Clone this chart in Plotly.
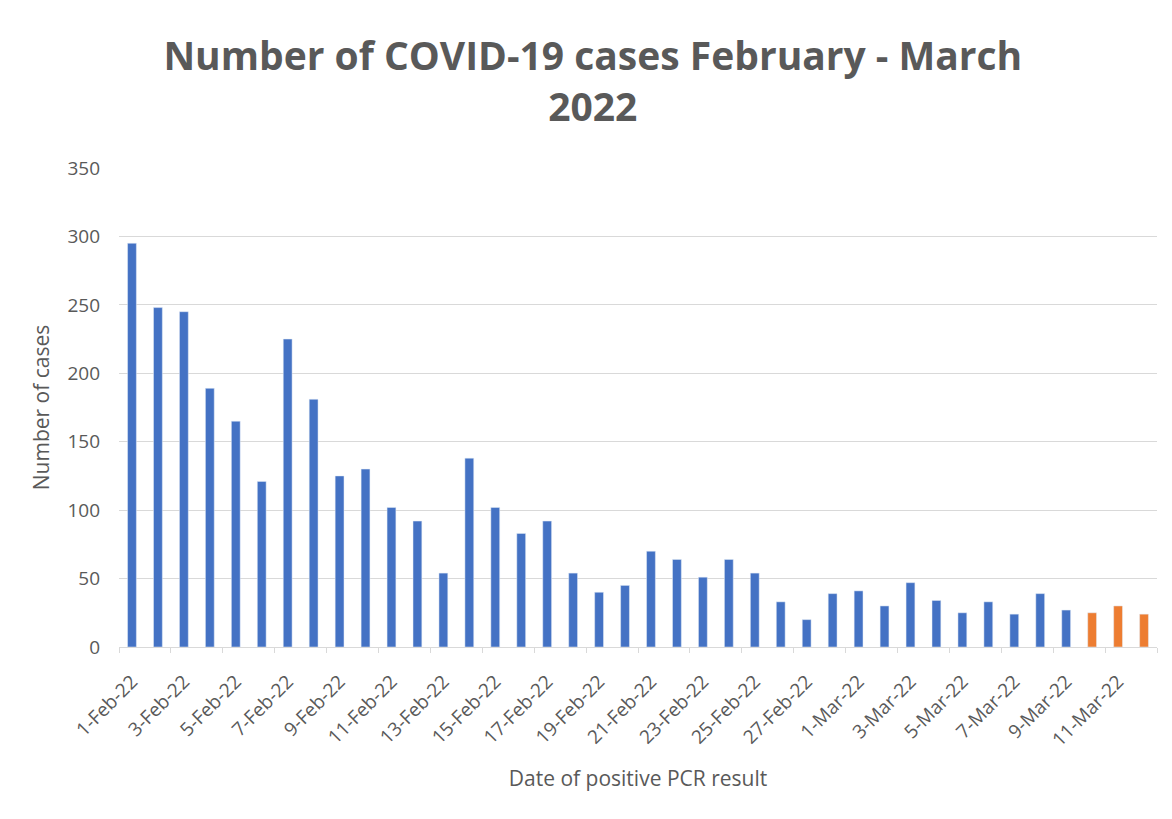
import plotly.graph_objects as go

dates_confirmed = [
    "1-Feb-22", "2-Feb-22", "3-Feb-22", "4-Feb-22", "5-Feb-22", "6-Feb-22", "7-Feb-22",
    "8-Feb-22", "9-Feb-22", "10-Feb-22", "11-Feb-22", "12-Feb-22", "13-Feb-22", "14-Feb-22",
    "15-Feb-22", "16-Feb-22", "17-Feb-22", "18-Feb-22", "19-Feb-22", "20-Feb-22", "21-Feb-22",
    "22-Feb-22", "23-Feb-22", "24-Feb-22", "25-Feb-22", "26-Feb-22", "27-Feb-22", "28-Feb-22",
    "1-Mar-22", "2-Mar-22", "3-Mar-22", "4-Mar-22", "5-Mar-22", "6-Mar-22", "7-Mar-22",
    "8-Mar-22", "9-Mar-22",
]
cases_confirmed = [
    295, 248, 245, 189, 165, 121, 225,
    181, 125, 130, 102, 92, 54, 138,
    102, 83, 92, 54, 40, 45, 70,
    64, 51, 64, 54, 33, 20, 39,
    41, 30, 47, 34, 25, 33, 24,
    39, 27,
]
dates_recent = ["10-Mar-22", "11-Mar-22", "12-Mar-22"]
cases_recent = [25, 30, 24]

all_dates = dates_confirmed + dates_recent

BLUE = "#4472C4"
ORANGE = "#ED7D31"
GREY = "#595959"
FONT = "Open Sans"

fig = go.Figure()
fig.add_trace(go.Bar(x=dates_confirmed, y=cases_confirmed, marker_color=BLUE,
                     width=0.34, name="Cases"))
fig.add_trace(go.Bar(x=dates_recent, y=cases_recent, marker_color=ORANGE,
                     width=0.34, name="Recent cases"))

fig.update_layout(
    width=1172, height=819,
    paper_bgcolor="white", plot_bgcolor="white",
    barmode="overlay",
    showlegend=False,
    margin=dict(l=111, r=23, t=160, b=180, autoexpand=False),
    font=dict(family=FONT, color=GREY),
    title=dict(
        text="<b>Number of COVID-19 cases February - March<br>2022</b>",
        x=0.499, xanchor="center", xref="container",
        y=0.924, yanchor="top", yref="container",
        font=dict(size=39, color=GREY, family=FONT),
    ),
    xaxis=dict(
        type="category",
        categoryorder="array", categoryarray=all_dates,
        tickmode="linear", tick0=0, dtick=2,
        tickson="boundaries",
        ticks="outside", ticklen=5, tickcolor="#d9d9d9",
        showline=True, linecolor="#d9d9d9", linewidth=1,
        showgrid=False,
        tickangle=-45,
        ticklabelstandoff=15,
        tickfont=dict(size=19, color=GREY),
        automargin=False,
        title=dict(text="Date of positive PCR result", font=dict(size=21, color=GREY), standoff=20),
    ),
    yaxis=dict(
        range=[0, 350], dtick=50,
        showgrid=True, gridcolor="#d9d9d9", gridwidth=1,
        zeroline=False, showline=False,
        ticks="", ticklabelstandoff=18,
        tickfont=dict(size=19, color=GREY),
        automargin=False,
        title=dict(text="Number of cases", font=dict(size=21, color=GREY), standoff=12),
    ),
)

fig.write_html("out.html")
